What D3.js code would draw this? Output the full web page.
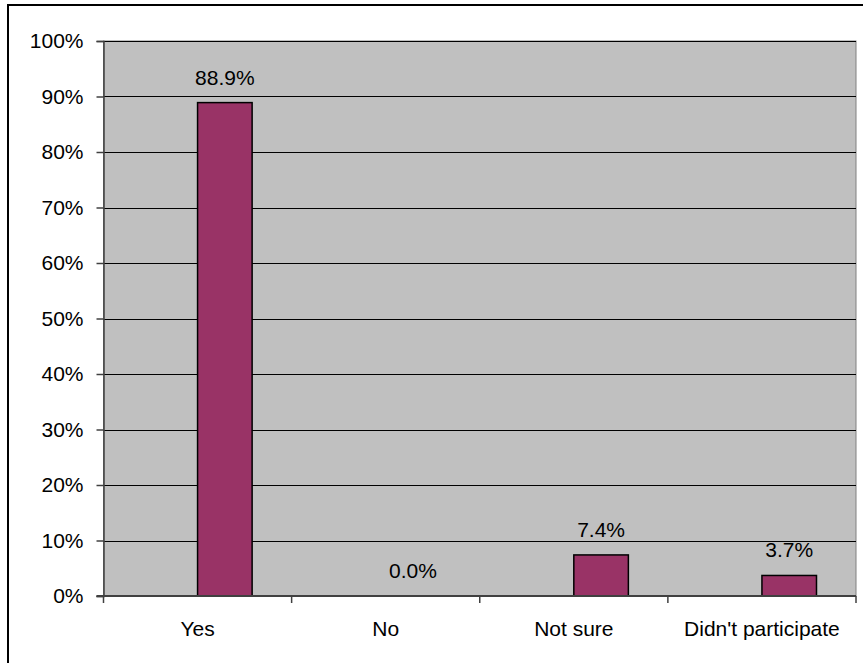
<!DOCTYPE html>
<html><head><meta charset="utf-8">
<script src="https://cdn.jsdelivr.net/npm/d3@7"></script>
<style>body{margin:0;background:#fff;} svg{display:block;font-family:"Liberation Sans",Arial,sans-serif;}</style>
</head><body>
<svg id="c" width="863" height="663"></svg>
<script>
const categories = ["Yes", "No", "Not sure", "Didn't participate"];
const values = [88.9, 0.0, 7.4, 3.7];
const valueLabels = ["88.9%", "0.0%", "7.4%", "3.7%"];
const yTicks = [0, 10, 20, 30, 40, 50, 60, 70, 80, 90, 100];

const FS = 21;
const svg = d3.select("#c");
const L = 103.5, R = 856, T = 41, B = 596;

// outer frame
svg.append("rect").attr("x", 8).attr("y", 5).attr("width", 900).attr("height", 700)
  .attr("fill", "none").attr("stroke", "#000").attr("stroke-width", 2);

const x = d3.scaleBand().domain(categories).range([L, R]).padding(0);
const y = d3.scaleLinear().domain([0, 100]).range([B, T]);

// plot background
svg.append("rect").attr("x", L).attr("y", T).attr("width", R - L).attr("height", B - T)
  .attr("fill", "#C0C0C0").attr("stroke", "#808080").attr("stroke-width", 1);

// gridlines
svg.append("g").selectAll("line").data(yTicks.filter(d => d > 0)).join("line")
  .attr("x1", L).attr("x2", R)
  .attr("y1", d => Math.round(y(d)) + 0.5).attr("y2", d => Math.round(y(d)) + 0.5)
  .attr("stroke", "#000").attr("stroke-width", 1);

// bars: start at category center
const bw = x.bandwidth() * 0.29;
svg.append("g").selectAll("rect").data(values).join("rect")
  .attr("x", (d, i) => x(categories[i]) + x.bandwidth() / 2)
  .attr("y", d => y(d))
  .attr("width", bw)
  .attr("height", d => B - y(d))
  .attr("fill", "#993366")
  .attr("stroke", d => d > 0 ? "#000" : "none")
  .attr("stroke-width", 1.5);

// value labels
svg.append("g").selectAll("text").data(values).join("text")
  .attr("x", (d, i) => x(categories[i]) + x.bandwidth() / 2 + bw / 2)
  .attr("y", d => y(d) - 18)
  .attr("text-anchor", "middle")
  .attr("font-size", FS)
  .attr("fill", "#000")
  .text((d, i) => valueLabels[i]);

// y axis
const yAxis = d3.axisLeft(y).tickValues(yTicks).tickFormat(d => d + "%").tickSize(7).tickPadding(13);
const gy = svg.append("g").attr("transform", `translate(${L},0)`).call(yAxis);
gy.select(".domain").attr("stroke", "#404040").attr("stroke-width", 1.5);
gy.selectAll(".tick line").attr("stroke", "#404040").attr("stroke-width", 1.5);
gy.selectAll("text").attr("font-size", FS).attr("fill", "#000").attr("font-family", "Liberation Sans, Arial, sans-serif");

// x axis
const xTickPos = categories.map(c => x(c)).concat([R]);
svg.append("line").attr("x1", L - 7).attr("x2", R).attr("y1", B).attr("y2", B)
  .attr("stroke", "#404040").attr("stroke-width", 2);
svg.append("g").selectAll("line").data(xTickPos).join("line")
  .attr("x1", d => d).attr("x2", d => d).attr("y1", B).attr("y2", B + 7)
  .attr("stroke", "#404040").attr("stroke-width", 1.5);
svg.append("g").selectAll("text").data(categories).join("text")
  .attr("x", d => x(d) + x.bandwidth() / 2)
  .attr("y", B + 40)
  .attr("text-anchor", "middle")
  .attr("font-size", FS)
  .attr("fill", "#000")
  .text(d => d);
</script>
</body></html>
